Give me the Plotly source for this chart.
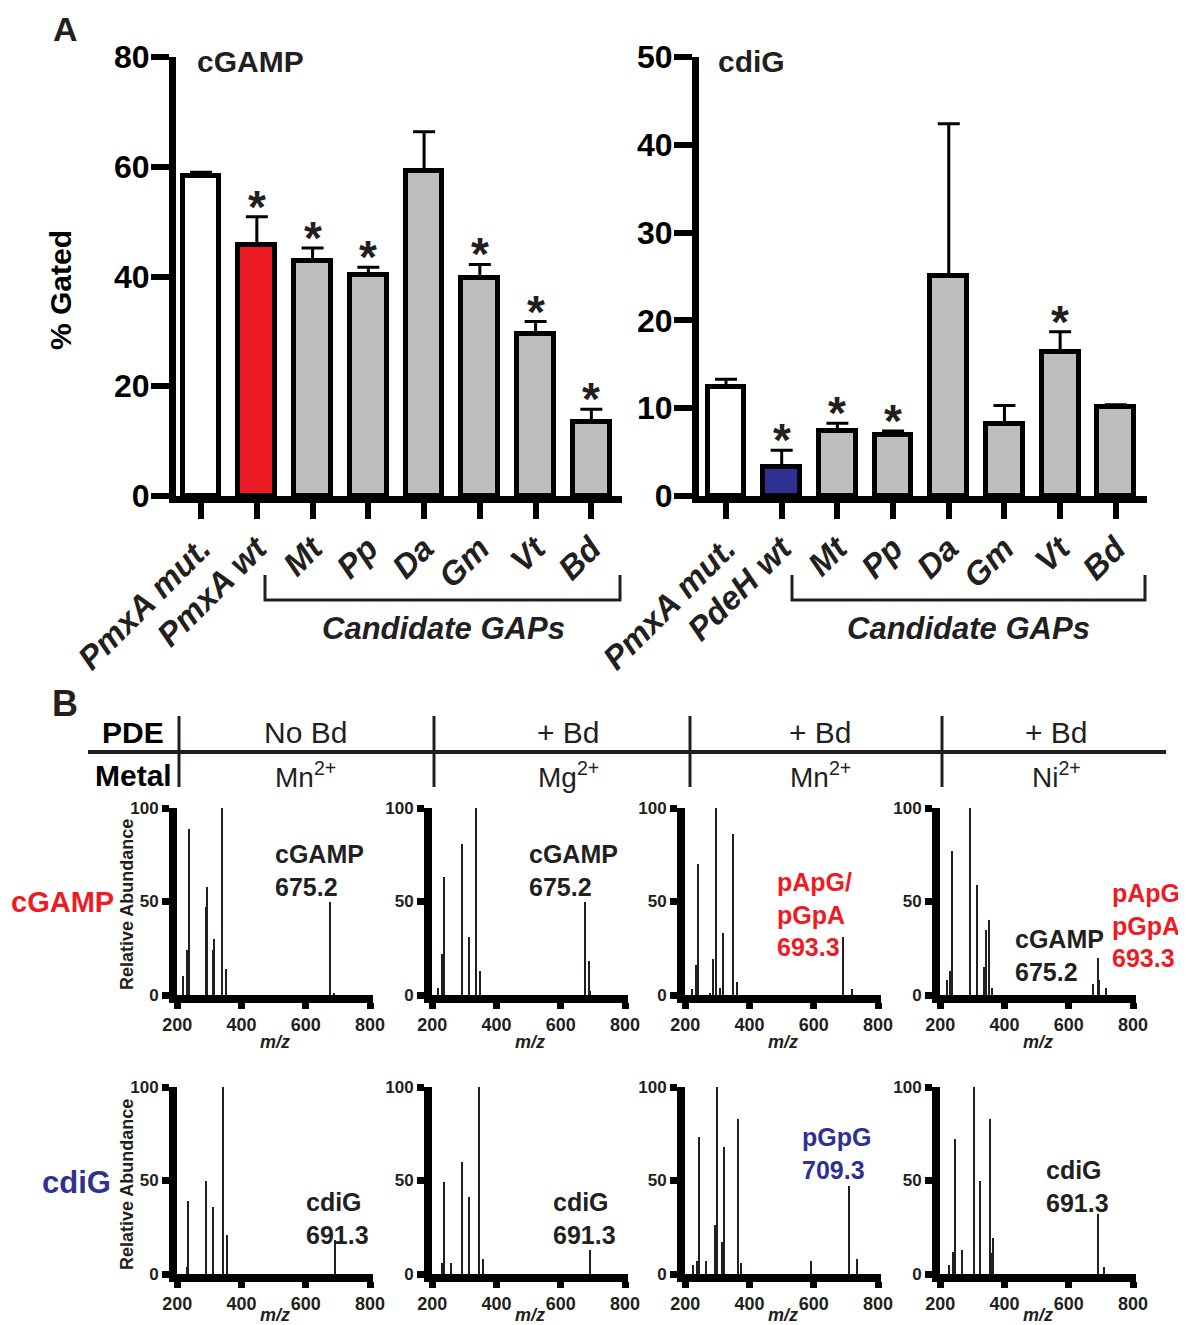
import plotly.graph_objects as go

# page body has an 8px margin: the figure is drawn 8px in from the top-left corner
OFF = 8
W, H = 1186, 1325
FW, FH = W - OFF, H - OFF
TXT = '#231f20'
FONT = 'Arial, Liberation Sans, sans-serif'

# ---------------- Panel A data ----------------
cgamp_labels = ["PmxA mut.", "PmxA wt", "Mt", "Pp", "Da", "Gm", "Vt", "Bd"]
cgamp_vals = [58.4, 45.8, 42.8, 40.3, 59.3, 39.7, 29.5, 13.4]
cgamp_err = [0.6, 5.1, 2.4, 1.4, 7.1, 2.5, 2.3, 2.4]
cgamp_sig = [False, True, True, True, False, True, True, True]
cgamp_colors = ['#ffffff', '#ed1c24'] + ['#bcbec0'] * 6

cdig_labels = ["PmxA mut.", "PdeH wt", "Mt", "Pp", "Da", "Gm", "Vt", "Bd"]
cdig_vals = [12.4, 3.3, 7.4, 7.0, 25.1, 8.2, 16.4, 10.1]
cdig_err = [0.9, 1.9, 0.9, 0.4, 17.3, 2.1, 2.3, 0.3]
cdig_sig = [False, True, True, True, False, False, True, False]
cdig_colors = ['#ffffff', '#2e3192'] + ['#bcbec0'] * 6

# ---------------- Panel B data (m/z, relative abundance) ----------------
s1_mz = [219, 232, 238, 290, 292, 313, 315, 341, 351, 675, 688]
s1_ab = [10, 24, 89, 47, 58, 24, 30, 100, 14, 50, 1]
s2_mz = [218, 230, 236, 292, 315, 337, 349, 675, 688, 691]
s2_ab = [4, 22, 63, 81, 31, 100, 13, 50, 18, 2]
s3_mz = [221, 234, 240, 277, 286, 296, 309, 319, 350, 362, 693, 718]
s3_ab = [3, 16, 70, 1, 19, 100, 4, 33, 86, 7, 31, 3]
s4_mz = [221, 231, 238, 295, 316, 338, 343, 351, 363, 675, 693, 696, 716]
s4_ab = [8, 13, 77, 100, 59, 15, 35, 40, 4, 6, 20, 8, 4]
s5_mz = [230, 234, 290, 313, 344, 355, 691]
s5_ab = [3.5, 39, 50, 36, 100, 21, 18]
s6_mz = [230, 236, 258, 292, 315, 346, 359, 691]
s6_ab = [6, 49, 6, 60, 41, 100, 8, 13]
s7_mz = [224, 238, 244, 266, 292, 301, 315, 323, 364, 374, 592, 709, 735]
s7_ab = [5, 7, 73, 7, 26, 100, 17, 68, 83, 6, 7, 47, 8]
s8_mz = [228, 241, 247, 268, 305, 324, 356, 360, 366, 691, 711]
s8_ab = [5, 12, 72, 13, 100, 50, 83, 11, 19, 32, 4]

spectra = [(s1_mz, s1_ab), (s2_mz, s2_ab), (s3_mz, s3_ab), (s4_mz, s4_ab),
           (s5_mz, s5_ab), (s6_mz, s6_ab), (s7_mz, s7_ab), (s8_mz, s8_ab)]

mz_ticks = [200, 400, 600, 800]
ab_ticks = [0, 50, 100]

pde_labels = ["No Bd", "+ Bd", "+ Bd", "+ Bd"]
metal_labels = ["Mn<sup>2+</sup>", "Mg<sup>2+</sup>", "Mn<sup>2+</sup>", "Ni<sup>2+</sup>"]


def px(x):
    return (x - OFF) / FW


def py(y):
    return 1 - (y - OFF) / FH


def note(x, y, text, size, color=TXT, bold=False, italic=False, xa='center', ya='middle', angle=0):
    f = dict(size=size, color=color)
    if bold:
        f['weight'] = 'bold'
    if italic:
        f['style'] = 'italic'
    return dict(x=px(x), y=py(y), xref='paper', yref='paper', text=text, showarrow=False,
                xanchor=xa, yanchor=ya, textangle=angle, align='left', font=f)


fig = go.Figure()
layout = dict(width=FW, height=FH, margin=dict(l=0, r=0, t=0, b=0, pad=0, autoexpand=False),
              paper_bgcolor='white', plot_bgcolor='white', showlegend=False,
              font=dict(family=FONT, color=TXT))
annotations = []
shapes = []

# ---------------- Panel A ----------------
A_ydom = [py(496), py(57)]
panelA = [
    (cgamp_labels, cgamp_vals, cgamp_err, cgamp_sig, cgamp_colors, [176, 622], [-0.45, 7.55], [0, 80], 20, 'cGAMP', 195),
    (cdig_labels, cdig_vals, cdig_err, cdig_sig, cdig_colors, [699, 1147], [-0.485, 7.56], [0, 50], 10, 'cdiG', 716),
]
for i, (labs, vals, errs, sig, cols, xd, xr, yr, dt, title, tx) in enumerate(panelA, start=1):
    xa = 'x' if i == 1 else 'x%d' % i
    ya = 'y' if i == 1 else 'y%d' % i
    cats = list(range(len(labs)))
    fig.add_trace(go.Bar(
        x=cats, y=vals, width=0.66, xaxis=xa, yaxis=ya,
        marker=dict(color=cols, line=dict(color='black', width=5)),
        error_y=dict(type='data', symmetric=False, array=errs,
                     arrayminus=[0] * len(errs), thickness=3, width=11, color='black')))
    layout['xaxis' if i == 1 else 'xaxis%d' % i] = dict(
        domain=[px(xd[0]), px(xd[1])], range=xr, anchor=ya, automargin=False,
        tickvals=cats, ticktext=labs, tickangle=-45, ticklabelstandoff=-3,
        tickfont=dict(size=33, weight='bold', style='italic', color=TXT),
        showline=True, linewidth=7, linecolor='black',
        ticks='outside', ticklen=16, tickwidth=6, tickcolor='black',
        showgrid=False, zeroline=False, fixedrange=True)
    layout['yaxis' if i == 1 else 'yaxis%d' % i] = dict(
        domain=A_ydom, range=yr, anchor=xa, dtick=dt, tick0=0, automargin=False,
        ticklabelstandoff=-5,
        tickfont=dict(size=32, weight='bold', color='black'),
        showline=True, linewidth=7, linecolor='black',
        ticks='outside', ticklen=18, tickwidth=6, tickcolor='black',
        showgrid=False, zeroline=False, fixedrange=True)
    for c, v, e, s in zip(cats, vals, errs, sig):
        if s:
            annotations.append(dict(x=c, y=v + e, xref=xa, yref=ya, text='*',
                                    showarrow=False, xanchor='center', yanchor='middle', yshift=10,
                                    font=dict(size=46, weight='bold', color=TXT)))
    annotations.append(note(tx, 62, title, 30, bold=True, xa='left'))

# y-axis title of panel A
annotations.append(note(60, 290, '% Gated', 30, color='black', bold=True, angle=-90))
# bracket + "Candidate GAPs"
for x1, x2, cx in [(265, 620, 443), (792, 1145, 968)]:
    shapes.append(dict(type='path', xref='paper', yref='paper',
                       path='M %f,%f L %f,%f L %f,%f L %f,%f' % (px(x1), py(575), px(x1), py(600),
                                                                 px(x2), py(600), px(x2), py(575)),
                       line=dict(color=TXT, width=3)))
    annotations.append(note(cx, 628, 'Candidate GAPs', 31, bold=True, italic=True))

# panel letters
annotations.append(note(65, 8, 'A', 34, bold=True, ya='top'))
annotations.append(note(65, 703, 'B', 36, bold=True))

# ---------------- Panel B header table ----------------
shapes.append(dict(type='line', xref='paper', yref='paper', x0=px(88), x1=px(1166), y0=py(752), y1=py(752),
                   line=dict(color=TXT, width=4)))
for xv in [179, 434, 690, 942]:
    shapes.append(dict(type='line', xref='paper', yref='paper', x0=px(xv), x1=px(xv), y0=py(716), y1=py(787),
                       line=dict(color=TXT, width=3)))
annotations.append(note(133, 732, 'PDE', 30, color='black', bold=True))
annotations.append(note(133, 775, 'Metal', 30, color='black', bold=True))
col_centers = [305, 568, 820, 1056]
for cx, t1, t2 in zip(col_centers, pde_labels, metal_labels):
    annotations.append(note(cx, 732, t1, 30))
    annotations.append(note(cx, 775, t2, 28))

# ---------------- Panel B spectra ----------------
col_x200 = [177, 432, 685, 940]
row_dom = [(808, 995), (1087, 1274)]
for k, (mz, ab) in enumerate(spectra):
    r, c = divmod(k, 4)
    n = k + 3
    xa, ya = 'x%d' % n, 'y%d' % n
    fig.add_trace(go.Bar(x=mz, y=ab, width=4.5, xaxis=xa, yaxis=ya,
                         marker=dict(color='#231f20', line=dict(width=0))))
    x0 = col_x200[c]
    layout['xaxis%d' % n] = dict(
        domain=[px(x0), px(x0 + 196)], range=[199.5, 809], anchor=ya, automargin=False,
        tickvals=mz_ticks, ticks='outside', ticklen=6, tickwidth=7, tickcolor='black',
        showline=True, linewidth=8, linecolor='black', showgrid=False, zeroline=False,
        tickfont=dict(size=18, weight='bold', color=TXT),
        title=dict(text='m/z', standoff=5, font=dict(size=18, weight='bold', style='italic', color=TXT)),
        fixedrange=True)
    y0, y1 = row_dom[r]
    layout['yaxis%d' % n] = dict(
        domain=[py(y1), py(y0)], range=[0, 100], anchor=xa, automargin=False,
        tickvals=ab_ticks, ticks='outside', ticklen=7, tickwidth=7, tickcolor='black',
        showline=True, linewidth=8, linecolor='black', showgrid=False, zeroline=False,
        tickfont=dict(size=17, weight='bold', color=TXT), fixedrange=True)

# spectra peak annotations
spec_notes = [
    (273, 870, 'cGAMP<br>675.2', TXT),
    (527, 870, 'cGAMP<br>675.2', TXT),
    (775, 914, 'pApG/<br>pGpA<br>693.3', '#ed1c24'),
    (1013, 955, 'cGAMP<br>675.2', TXT),
    (1110, 925, 'pApG/<br>pGpA<br>693.3', '#ed1c24'),
    (304, 1218, 'cdiG<br>691.3', TXT),
    (551, 1218, 'cdiG<br>691.3', TXT),
    (800, 1153, 'pGpG<br>709.3', '#2e3192'),
    (1044, 1186, 'cdiG<br>691.3', TXT),
]
for x, y, t, col in spec_notes:
    annotations.append(note(x, y, t, 25, color=col, bold=True, xa='left'))
# row labels
annotations.append(note(62, 902, 'cGAMP', 29, color='#ed1c24', bold=True))
annotations.append(note(76, 1182, 'cdiG', 31, color='#2e3192', bold=True))
for yc in [905, 1185]:
    annotations.append(note(127, yc, 'Relative Abundance', 18, bold=True, angle=-90))

layout['annotations'] = annotations
layout['shapes'] = shapes
layout['bargap'] = 0
fig.update_layout(**layout)

fig.write_html("out.html")
